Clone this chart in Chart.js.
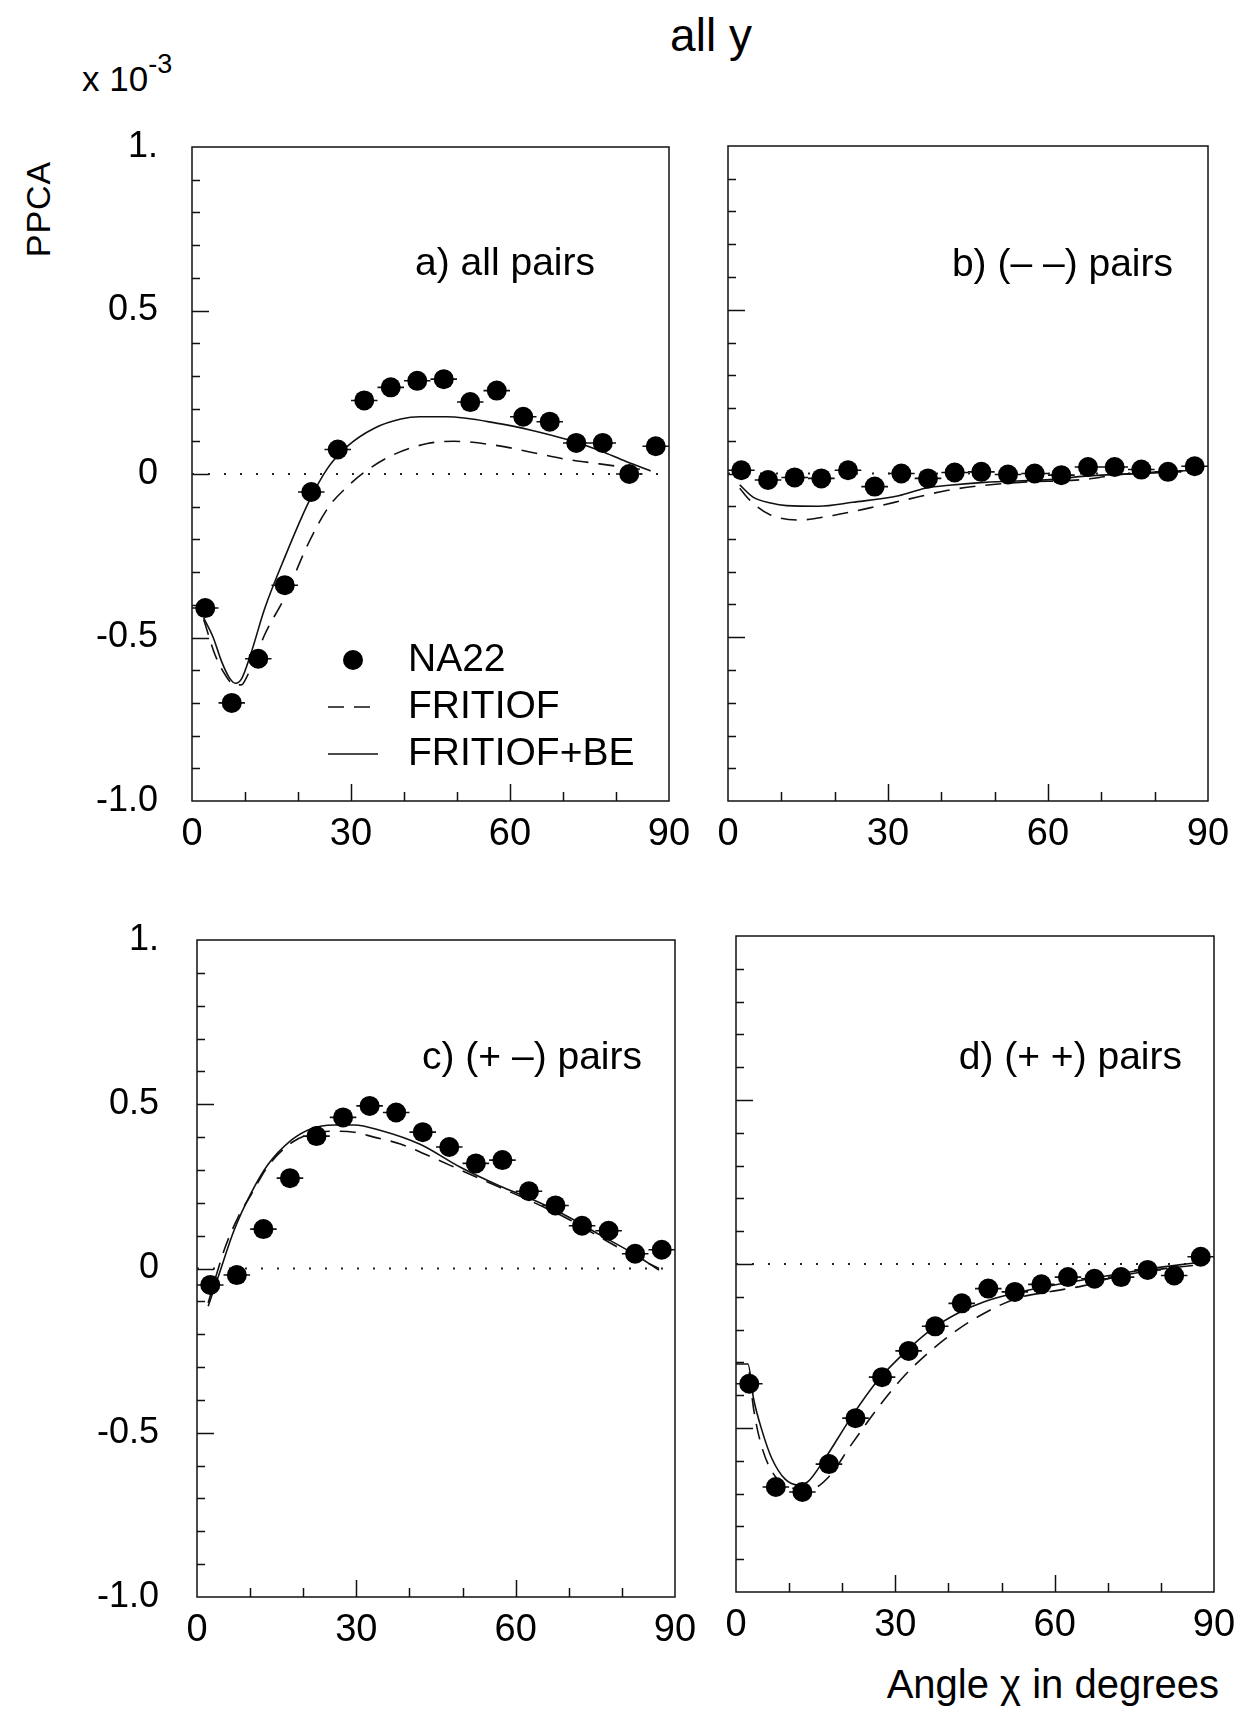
<!DOCTYPE html>
<html lang="en">
<head>
  <meta charset="UTF-8">
  <title>PPCA all y</title>
  <script src="https://cdn.jsdelivr.net/npm/chart.js"></script>
  <style>
    body { margin: 0; width: 1246px; height: 1709px; position: relative; overflow: hidden; background: #ffffff; color: #000; font-family: "Liberation Sans", Arial, sans-serif; }
    canvas { position: absolute; }
    .txt { position: absolute; white-space: nowrap; line-height: 1; }
    sup { font-size: 27px; position: relative; top: -5px; }
  </style>
</head>
<body>

<div class="txt" style="left:711px; top:12px; font-size:46px; transform:translateX(-50%);">all y</div>
<div class="txt" style="left:82px; top:56px; font-size:35px;">x 10<sup>-3</sup></div>
<div class="txt" style="left:38px; top:209px; font-size:34px; letter-spacing:1px; transform:translate(-50%,-50%) rotate(-90deg);">PPCA</div>
<div class="txt" style="right:27px; top:1664px; font-size:40px;">Angle &chi; in degrees</div>

<canvas id="panelA" width="709" height="754" style="left:0px; top:117px;"></canvas>
<canvas id="panelB" width="526" height="755" style="left:718px; top:116px;"></canvas>
<canvas id="panelC" width="715" height="757" style="left:0px; top:910px;"></canvas>
<canvas id="panelD" width="522" height="756" style="left:722px; top:906px;"></canvas>

<script>
const FONT = "'Liberation Sans', Arial, sans-serif";

// angle bins (degrees), 5 degree wide
const binCenters = [2.5, 7.5, 12.5, 17.5, 22.5, 27.5, 32.5, 37.5, 42.5, 47.5, 52.5, 57.5, 62.5, 67.5, 72.5, 77.5, 82.5, 87.5];
const binHalfWidth = 2.5;

// tick labels
const xTickValues = [0, 30, 60, 90];
const yTickValues = [1, 0.5, 0, -0.5, -1];
const yTickText = ['1.', '0.5', '0', '-0.5', '-1.0'];

// NA22 data, PPCA in units of 10^-3
const na22A = [-0.41, -0.70, -0.565, -0.34, -0.055, 0.075, 0.225, 0.265, 0.285, 0.29, 0.22, 0.255, 0.175, 0.16, 0.095, 0.095, 0.0, 0.085];
const na22B = [0.01, -0.02, -0.012, -0.015, 0.01, -0.04, 0.0, -0.015, 0.003, 0.005, -0.003, 0.0, -0.005, 0.02, 0.02, 0.012, 0.005, 0.022];
const na22C = [-0.05, -0.02, 0.12, 0.275, 0.403, 0.46, 0.495, 0.475, 0.415, 0.37, 0.32, 0.33, 0.235, 0.192, 0.13, 0.115, 0.045, 0.057];
const na22D = [-0.365, -0.68, -0.695, -0.61, -0.47, -0.345, -0.265, -0.19, -0.12, -0.075, -0.085, -0.062, -0.04, -0.045, -0.04, -0.018, -0.035, 0.022];

// FRITIOF (dashed) and FRITIOF+BE (solid) curves, [angle, PPCA]
const fritA = [[2.2,-0.445],[4.4,-0.555],[6.5,-0.62],[8,-0.645],[9.3,-0.645],[10.5,-0.615],[12,-0.56],[13.75,-0.49],[17.5,-0.377],[21.9,-0.214],[25.6,-0.105],[29.4,-0.037],[33,0.011],[38,0.059],[44.4,0.093],[49.4,0.1],[58,0.086],[64.4,0.065],[70.6,0.045],[76.9,0.031],[86.5,0.01]];
const fritBeA = [[2.2,-0.44],[4,-0.5],[5.5,-0.57],[7,-0.622],[8.2,-0.64],[9.4,-0.625],[11,-0.555],[13.75,-0.41],[17.5,-0.255],[21.9,-0.09],[25.6,0.018],[29.4,0.086],[34.4,0.14],[39.4,0.168],[43,0.175],[48,0.175],[58,0.154],[64,0.134],[70.6,0.106],[76.9,0.072],[81.9,0.038],[86.5,0.01]];

const fritB = [[2.2,-0.045],[4,-0.08],[7.8,-0.125],[13.4,-0.142],[19.7,-0.128],[26.6,-0.105],[33.4,-0.08],[41,-0.052],[47,-0.038],[54.7,-0.027],[67,-0.018],[73,-0.004],[87,0.01]];
const fritBeB = [[2.2,-0.035],[4.7,-0.072],[8,-0.09],[11,-0.098],[17,-0.1],[23.4,-0.088],[32,-0.068],[37,-0.045],[42,-0.035],[48,-0.027],[61,-0.018],[67,-0.008],[80,0.002],[87,0.01]];

const fritC = [[2.1,-0.105],[5.2,0.06],[7.7,0.155],[10.2,0.225],[13.3,0.31],[18,0.385],[22,0.412],[25.8,0.418],[29.6,0.415],[33.3,0.4],[38.3,0.379],[44.6,0.336],[49.6,0.3],[57,0.247],[63.3,0.202],[69.6,0.153],[75.8,0.096],[82,0.04],[87,0.0]];
const fritBeC = [[2.1,-0.115],[4,-0.025],[7,0.117],[10.2,0.23],[13.3,0.315],[17.7,0.39],[21.4,0.425],[25.8,0.437],[29.6,0.437],[34.6,0.42],[42,0.378],[49.6,0.308],[57,0.251],[63.3,0.209],[69.6,0.16],[75.8,0.103],[82,0.047],[87,-0.005]];

const fritD = [[2.5,-0.33],[3.3,-0.44],[4.9,-0.56],[7.4,-0.648],[10.5,-0.684],[14.25,-0.684],[17.4,-0.65],[21.75,-0.55],[26.75,-0.438],[31.75,-0.34],[36.75,-0.263],[41.75,-0.2],[46.75,-0.15],[53,-0.104],[59.25,-0.084],[65.5,-0.066],[71.75,-0.038],[78,-0.02],[86.75,-0.003]];
const fritBeD = [[0,-0.305],[2.25,-0.305],[3.3,-0.41],[4.9,-0.508],[6.75,-0.593],[9.25,-0.656],[11.75,-0.674],[13.6,-0.663],[16.75,-0.593],[21.75,-0.466],[26.75,-0.354],[31.75,-0.27],[36.75,-0.2],[41.75,-0.15],[46.75,-0.115],[53,-0.087],[59.25,-0.066],[65.5,-0.048],[71.75,-0.031],[78,-0.014],[86.75,0.004]];

const zeroLine = [[0, 0], [90, 0]];

const toXY = arr => arr.map(p => ({ x: p[0], y: p[1] }));

// frame, inward ticks, error bars, panel label and legend
const panelDeco = {
  id: 'panelDeco',
  beforeDatasetsDraw(chart) {
    const { ctx, chartArea: a, scales: { x, y } } = chart;
    ctx.save();
    ctx.strokeStyle = '#111';
    ctx.lineWidth = 1.5;
    ctx.strokeRect(a.left, a.top, a.right - a.left, a.bottom - a.top);
    ctx.beginPath();
    y.ticks.forEach(t => {
      const tenth = Math.round(t.value * 10);
      if (Math.abs(tenth) >= 10) return;
      const len = tenth % 5 === 0 ? 17 : 8;
      const py = Math.round(y.getPixelForValue(t.value)) + 0.5;
      ctx.moveTo(a.left, py);
      ctx.lineTo(a.left + len, py);
    });
    x.ticks.forEach(t => {
      if (t.value <= 0 || t.value >= 90) return;
      const len = t.value % 30 === 0 ? 17 : 9;
      const px = Math.round(x.getPixelForValue(t.value)) + 0.5;
      ctx.moveTo(px, a.bottom);
      ctx.lineTo(px, a.bottom - len);
    });
    ctx.stroke();
    // horizontal error bars = bin width
    ctx.beginPath();
    ctx.lineWidth = 1.6;
    chart.data.datasets[0].data.forEach(p => {
      const py = y.getPixelForValue(p.y);
      ctx.moveTo(x.getPixelForValue(p.x - binHalfWidth), py);
      ctx.lineTo(x.getPixelForValue(p.x + binHalfWidth), py);
    });
    ctx.stroke();
    ctx.restore();
  },
  afterDraw(chart, args, opts) {
    const { ctx, chartArea: a } = chart;
    ctx.save();
    ctx.fillStyle = '#000';
    ctx.font = '39px ' + FONT;
    ctx.textAlign = 'right';
    ctx.textBaseline = 'middle';
    ctx.fillText(opts.label, a.right - opts.labelRight, a.top + opts.labelTop);
    if (opts.legend) {
      const lx = a.left, ty = a.top;
      ctx.textAlign = 'left';
      ctx.beginPath();
      ctx.arc(lx + 161, ty + 513, 10, 0, Math.PI * 2);
      ctx.fill();
      ctx.fillText('NA22', lx + 216, ty + 513);
      ctx.strokeStyle = '#111';
      ctx.lineWidth = 1.6;
      ctx.setLineDash([16, 10]);
      ctx.beginPath();
      ctx.moveTo(lx + 136, ty + 560);
      ctx.lineTo(lx + 186, ty + 560);
      ctx.stroke();
      ctx.fillText('FRITIOF', lx + 216, ty + 560);
      ctx.setLineDash([]);
      ctx.beginPath();
      ctx.moveTo(lx + 136, ty + 607);
      ctx.lineTo(lx + 186, ty + 607);
      ctx.stroke();
      ctx.fillText('FRITIOF+BE', lx + 216, ty + 607);
    }
    ctx.restore();
  }
};

function yLabel(v) {
  const i = yTickValues.findIndex(t => Math.abs(t - v) < 1e-6);
  return i >= 0 ? yTickText[i] : '';
}

function xLabel(v) {
  return xTickValues.includes(v) ? String(v) : '';
}

function makePanel(id, values, frit, fritBe, p) {
  const points = binCenters.map((x, i) => ({ x: x, y: values[i] }));
  new Chart(document.getElementById(id).getContext('2d'), {
    type: 'scatter',
    data: {
      datasets: [
        { label: 'NA22', data: points, pointRadius: 10, pointHoverRadius: 10, backgroundColor: '#000', borderColor: '#000', borderWidth: 0 },
        { label: 'FRITIOF+BE', data: toXY(fritBe), showLine: true, pointRadius: 0, borderColor: '#111', borderWidth: 1.6, cubicInterpolationMode: 'monotone' },
        { label: 'FRITIOF', data: toXY(frit), showLine: true, pointRadius: 0, borderColor: '#111', borderWidth: 1.6, borderDash: [16, 10], cubicInterpolationMode: 'monotone' },
        { label: 'zero', data: toXY(zeroLine), showLine: true, pointRadius: 0, borderColor: '#222', borderWidth: 2.2, borderDash: [2, 14] }
      ]
    },
    options: {
      responsive: false,
      animation: false,
      events: [],
      layout: { padding: { top: 30, right: p.padRight, left: 0, bottom: 0 } },
      plugins: {
        legend: { display: false },
        tooltip: { enabled: false },
        panelDeco: { label: p.label, labelRight: p.labelRight, labelTop: p.labelTop, legend: !!p.legend }
      },
      scales: {
        x: {
          type: 'linear', min: 0, max: 90,
          grid: { display: false }, border: { display: false },
          ticks: { stepSize: 10, autoSkip: false, maxRotation: 0, padding: 3, color: '#000', font: { family: FONT, size: 38 }, callback: xLabel },
          afterFit: s => { s.height = 70; s.paddingLeft = 0; s.paddingRight = 0; }
        },
        y: {
          type: 'linear', min: -1, max: 1,
          grid: { display: false }, border: { display: false },
          ticks: { stepSize: 0.1, autoSkip: false, display: !!p.yLabels, padding: p.yPad || 30, color: '#000', font: { family: FONT, size: 36 }, callback: yLabel },
          afterFit: s => { s.width = p.yWidth; s.paddingTop = 0; s.paddingBottom = 0; }
        }
      }
    },
    plugins: [panelDeco]
  });
}

makePanel('panelA', na22A, fritA, fritBeA, { yWidth: 192, padRight: 40, yLabels: true, yPad: 26, label: 'a) all pairs', labelRight: 74, labelTop: 117, legend: true });
makePanel('panelB', na22B, fritB, fritBeB, { yWidth: 10, padRight: 36, label: 'b) (\u2013 \u2013) pairs', labelRight: 35, labelTop: 119 });
makePanel('panelC', na22C, fritC, fritBeC, { yWidth: 197, padRight: 40, yLabels: true, yPad: 30, label: 'c) (+ \u2013) pairs', labelRight: 33, labelTop: 118 });
makePanel('panelD', na22D, fritD, fritBeD, { yWidth: 14, padRight: 30, label: 'd) (+ +) pairs', labelRight: 32, labelTop: 122 });
</script>

</body>
</html>
